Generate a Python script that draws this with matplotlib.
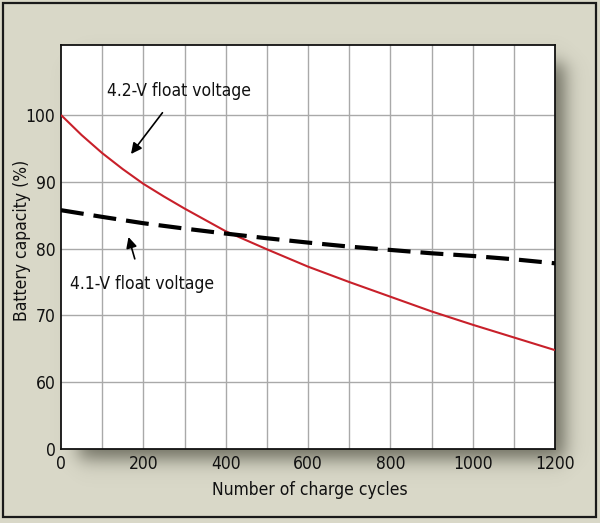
import numpy as np
import matplotlib
matplotlib.use("Agg")
import matplotlib.pyplot as plt
from matplotlib.patches import Rectangle

plt.rcParams['font.family'] = ['DejaVu Sans']
plt.rcParams['font.stretch'] = 'condensed'

# ---- data ----
cycles_42v = [0, 50, 100, 150, 200, 250, 300, 400, 500, 600, 700, 800, 900, 1000, 1100, 1200]
cap_42v = [100, 97.0, 94.3, 91.9, 89.7, 87.8, 86.0, 82.6, 79.9, 77.3, 75.0, 72.8, 70.6, 68.6, 66.7, 64.8]
cycles_41v = [0, 100, 200, 300, 400, 500, 600, 700, 800, 900, 1000, 1100, 1200]
cap_41v = [85.75, 84.75, 83.8, 83.0, 82.25, 81.55, 80.9, 80.3, 79.8, 79.3, 78.9, 78.4, 77.8]
x_ticks = [0, 200, 400, 600, 800, 1000, 1200]
y_ticks = [60, 70, 80, 90, 100]
y_break_label = "0"
label_42 = "4.2-V float voltage"
label_41 = "4.1-V float voltage"

W, H = 600, 523
fig = plt.figure(figsize=(W / 100, H / 100), dpi=100)
bg = '#d9d8c8'
fig.patch.set_facecolor(bg)

# background axes for shadow & border
bgax = fig.add_axes([0, 0, 1, 1], zorder=0)
bgax.set_xlim(0, W)
bgax.set_ylim(H, 0)
bgax.axis('off')

L, R, T, B = 61, 555, 45, 449
xx = np.arange(W) + 0.5
yy = np.arange(H) + 0.5
def soft(v, a, b, s):
    return 1 / (1 + np.exp(-(v - a) / s)) * (1 / (1 + np.exp((v - b) / s)))
off = 10
sx = soft(xx, L + off + 8, R + off, 5.5)
sy = soft(yy, T + off + 8, B + off, 5.5)
alpha = 0.75 * np.outer(sy, sx)
img = np.zeros((H, W, 4))
img[..., 0] = 0.30
img[..., 1] = 0.30
img[..., 2] = 0.25
img[..., 3] = alpha
bgax.imshow(img, extent=(0, W, H, 0), interpolation='bilinear', zorder=1)
bgax.add_patch(Rectangle((3, 3), 593, 514, fill=False, edgecolor='#1a1a1a', lw=1.6, zorder=3))

ax = fig.add_axes([L / W, 1 - B / H, (R - L) / W, (B - T) / H], zorder=2)
ax.set_facecolor('white')
ax.set_xlim(0, 1200)
ax.set_ylim(50, 50 + (B - T) / 66.8 * 10)

for xv in range(100, 1200, 100):
    ax.axvline(xv, color='#a9a9a9', lw=1.0, zorder=1)
for yv in y_ticks:
    ax.axhline(yv, color='#a9a9a9', lw=1.0, zorder=1)

ax.plot(cycles_42v, cap_42v, color='#c8202a', lw=1.5, zorder=3,
        solid_capstyle='butt', solid_joinstyle='round')
ax.plot(cycles_41v, cap_41v, color='black', lw=3.0, zorder=3, dashes=(5.5, 2.4), dash_capstyle='butt')

fs = 12.5
ax.set_xticks(x_ticks)
ax.set_xticklabels([str(v) for v in x_ticks])
ax.set_yticks([50] + y_ticks)
ax.set_yticklabels([y_break_label] + [str(v) for v in y_ticks])
ax.tick_params(length=0, labelsize=fs, colors='#111111', pad=4)
for sp in ax.spines.values():
    sp.set_color('#111111')
    sp.set_linewidth(1.3)

ax.set_xlabel("Number of charge cycles", fontsize=fs, color='#111111')
ax.set_ylabel("Battery capacity (%)", fontsize=fs, color='#111111')
ax.xaxis.set_label_coords((310 - L) / (R - L), (B - 481) / (B - T))
ax.yaxis.set_label_coords((31 - L) / (R - L), (B - 240) / (B - T))

def px2data(px, py):
    xd = (px - L) / (R - L) * 1200
    y0, y1 = ax.get_ylim()
    yd = y0 + (B - py) / (B - T) * (y1 - y0)
    return xd, yd

ax.annotate(label_42, xy=px2data(131, 154), xytext=px2data(179, 91),
            fontsize=fs, ha='center', va='center', color='#111111',
            arrowprops=dict(arrowstyle='-|>', color='black', lw=1.2,
                            mutation_scale=16, shrinkA=9, shrinkB=0), zorder=5)
ax.annotate(label_41, xy=px2data(128.5, 237), xytext=px2data(142, 284),
            fontsize=fs, ha='center', va='center', color='#111111',
            arrowprops=dict(arrowstyle='-|>', color='black', lw=1.2,
                            mutation_scale=16, shrinkA=10, shrinkB=0), zorder=5)

fig.savefig("out.png", dpi=100, facecolor=bg)
